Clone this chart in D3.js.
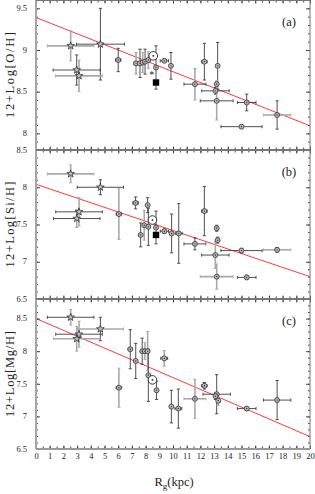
<!DOCTYPE html>
<html><head><meta charset="utf-8">
<script src="https://cdn.jsdelivr.net/npm/d3@7"></script>
<style>body{margin:0;background:#fff}svg{display:block}</style>
</head><body>
<script>
// rows: [R_g (kpc), value, dR, dValue, marker kind, x-error source, y-error source]
const oxygen = [
  [2.53, 9.05, 1.70, 0.18, "star", "A", "A"],
  [4.70, 9.07, 1.75, 0.43, "star", "B", "B"],
  [2.97, 8.76, 1.72, 0.18, "star", "B", "B"],
  [3.14, 8.69, 1.72, 0.19, "star", "A", "A"],
  [6.00, 8.88, 0.20, 0.14, "dot", "B", "B"],
  [7.30, 8.84, 0.15, 0.13, "dot", "B", "A"],
  [7.59, 8.84, 0.12, 0.17, "dot", "B", "B"],
  [7.79, 8.85, 0.12, 0.12, "dot", "B", "A"],
  [7.96, 8.86, 0.12, 0.15, "dot", "B", "B"],
  [8.20, 8.88, 0.12, 0.10, "dot", "B", "A"],
  [8.76, 8.79, 0.10, 0.26, "dot", "B", "B"],
  [9.37, 8.87, 0.30, 0.02, "dot", "B", "B"],
  [9.85, 8.81, 0.10, 0.16, "dot", "B", "B"],
  [11.60, 8.59, 0.80, 0.19, "dot", "B", "A"],
  [12.29, 8.86, 0.20, 0.22, "dot", "B", "B"],
  [13.26, 8.81, 0.10, 0.28, "dot", "B", "B"],
  [13.19, 8.59, 0.10, 0.04, "dot", "B", "A"],
  [13.10, 8.51, 1.00, 0.04, "dot", "B", "B"],
  [13.19, 8.39, 1.20, 0.23, "dot", "B", "A"],
  [15.38, 8.37, 0.68, 0.10, "dot", "B", "B"],
  [15.00, 8.08, 1.50, 0.02, "dot", "B", "B"],
  [17.60, 8.22, 1.00, 0.17, "dot", "A", "B"],
  [8.56, 8.93, 0, 0, "sun", "B", "B"],
  [8.45, 8.71, 0, 0, "ast", "B", "B"],
  [8.76, 8.61, 0, 0, "square", "B", "B"]
];
const silicon = [
  [2.53, 8.18, 1.70, 0.12, "star", "A", "A"],
  [4.70, 8.00, 1.69, 0.10, "star", "B", "B"],
  [2.97, 7.58, 1.70, 0.12, "star", "B", "A"],
  [3.14, 7.67, 1.70, 0.19, "star", "B", "A"],
  [6.05, 7.64, 0.20, 0.34, "dot", "B", "A"],
  [7.27, 7.79, 0.20, 0.08, "dot", "B", "B"],
  [7.64, 7.36, 0.10, 0.16, "dot", "B", "B"],
  [7.90, 7.49, 0.10, 0.20, "dot", "B", "A"],
  [8.15, 7.76, 0.10, 0.10, "dot", "B", "B"],
  [8.20, 7.47, 0.10, 0.25, "dot", "B", "B"],
  [8.76, 7.46, 0.10, 0.22, "dot", "B", "B"],
  [9.37, 7.41, 0.30, 0.03, "dot", "B", "B"],
  [9.90, 7.38, 0.10, 0.26, "dot", "B", "B"],
  [10.42, 7.38, 0.25, 0.40, "dot", "B", "B"],
  [11.60, 7.24, 0.80, 0.08, "dot", "B", "B"],
  [12.29, 7.68, 0.20, 0.33, "dot", "B", "B"],
  [13.19, 7.45, 0.10, 0.04, "dot", "B", "B"],
  [13.26, 7.29, 0.10, 0.04, "dot", "B", "B"],
  [13.09, 7.09, 1.00, 0.18, "dot", "B", "A"],
  [13.19, 6.80, 1.20, 0.17, "dot", "A", "A"],
  [15.38, 6.79, 0.68, 0.03, "dot", "B", "B"],
  [15.00, 7.15, 1.50, 0.03, "dot", "B", "B"],
  [17.60, 7.16, 1.00, 0.03, "dot", "A", "B"],
  [8.50, 7.56, 0, 0, "sun", "B", "B"],
  [8.76, 7.36, 0, 0, "square", "B", "B"]
];
const magnesium = [
  [2.53, 8.52, 1.70, 0.12, "star", "B", "A"],
  [4.70, 8.34, 1.69, 0.18, "star", "A", "B"],
  [2.97, 8.19, 1.70, 0.19, "star", "A", "A"],
  [3.14, 8.26, 1.70, 0.20, "star", "B", "A"],
  [6.05, 7.44, 0.20, 0.30, "dot", "B", "A"],
  [6.88, 8.03, 0.15, 0.30, "dot", "B", "B"],
  [7.28, 7.85, 0.10, 0.27, "dot", "B", "B"],
  [7.75, 8.00, 0.10, 0.20, "dot", "B", "B"],
  [7.95, 8.00, 0.10, 0.13, "dot", "B", "A"],
  [8.15, 8.00, 0.10, 0.30, "dot", "B", "A"],
  [8.20, 7.63, 0.10, 0.40, "dot", "B", "B"],
  [8.80, 7.40, 0.10, 0.14, "dot", "B", "B"],
  [9.36, 7.89, 0.25, 0.12, "dot", "B", "A"],
  [9.88, 7.15, 0.10, 0.25, "dot", "B", "B"],
  [10.39, 7.12, 0.25, 0.30, "dot", "B", "B"],
  [11.60, 7.27, 0.80, 0.30, "dot", "A", "A"],
  [12.29, 7.47, 0.20, 0.05, "dot", "B", "B"],
  [13.19, 7.34, 1.00, 0.30, "dot", "B", "B"],
  [13.10, 7.31, 0.10, 0.05, "dot", "B", "B"],
  [13.30, 7.24, 0.10, 0.07, "dot", "B", "A"],
  [15.38, 7.12, 0.68, 0.03, "dot", "B", "B"],
  [17.60, 7.25, 1.00, 0.30, "dot", "B", "B"],
  [8.50, 7.56, 0, 0, "sun", "B", "B"]
];
const panelTags = ["(a)", "(b)", "(c)"];
const yTitles = ["12+Log[O/H]", "12+Log[Si/H]", "12+Log[Mg/H]"];
const yDomains = [[7.8, 9.6], [6.5, 8.5], [6.5, 8.8]];
const yTickLabels = [["8", "8.5", "9", "9.5"], ["6.5", "7", "7.5", "8", "8.5"], ["6.5", "7", "7.5", "8", "8.5"]];
const fitIntercept = [9.39, 8.04, 8.50];
const fitSlope = [-0.065, -0.062, -0.0905];
const xTickLabels = [0,1,2,3,4,5,6,7,8,9,10,11,12,13,14,15,16,17,18,19,20];
const xDomain = [0, 20];

const W = 315, H = 494;
const left = 36, right = 310;
const panelTops = [0, 150, 299];
const panelBottoms = [150, 299, 449];
const datasets = [oxygen, silicon, magnesium];
const FONT = "'Liberation Serif', 'DejaVu Serif', serif";
const srcStyle = {A: {c: "#a9a9a9", w: 1.6}, B: {c: "#3c3c3c", w: 0.9}};

const svg = d3.select("body").append("svg").attr("width", W).attr("height", H);
const x = d3.scaleLinear().domain(xDomain).range([left, right]);
const xMinor = d3.range(0, 41).map(v => v / 2);
const labelLayer = [];

datasets.forEach((data, i) => {
  const y = d3.scaleLinear().domain(yDomains[i]).range([panelBottoms[i], panelTops[i]]);
  const g = svg.append("g");
  const [lo, hi] = yDomains[i];
  const yMinor = d3.range(Math.ceil(lo * 10 - 1e-6), Math.floor(hi * 10 + 1e-6) + 1).map(v => v / 10);
  const yMajor = yMinor.filter(v => Math.abs(v * 2 - Math.round(v * 2)) < 1e-6);

  const clipId = "clip" + i;
  svg.append("clipPath").attr("id", clipId).append("rect")
    .attr("x", left).attr("y", panelTops[i]).attr("width", right - left).attr("height", panelBottoms[i] - panelTops[i]);

  // fit line
  g.append("line").attr("clip-path", `url(#${clipId})`)
    .attr("x1", x(xDomain[0])).attr("y1", y(fitIntercept[i] + fitSlope[i] * xDomain[0]))
    .attr("x2", x(xDomain[1])).attr("y2", y(fitIntercept[i] + fitSlope[i] * xDomain[1]))
    .attr("stroke", "#ff3b3b").attr("stroke-width", 1);

  // error bars
  const eb = g.append("g");
  data.forEach(d => {
    const [r, v, dr, dv, kind, sx, sy] = d;
    const cx = x(r), cy = y(v);
    if (dr > 0) {
      const s = srcStyle[sx];
      eb.append("line").attr("x1", x(r - dr)).attr("x2", x(r + dr)).attr("y1", cy).attr("y2", cy)
        .attr("stroke", s.c).attr("stroke-width", s.w);
      [r - dr, r + dr].forEach(e => eb.append("line").attr("x1", x(e)).attr("x2", x(e))
        .attr("y1", cy - 1.6).attr("y2", cy + 1.6).attr("stroke", s.c).attr("stroke-width", 0.9));
    }
    if (dv > 0) {
      const s = srcStyle[sy];
      eb.append("line").attr("x1", cx).attr("x2", cx).attr("y1", y(v - dv)).attr("y2", y(v + dv))
        .attr("stroke", s.c).attr("stroke-width", s.w);
      [v - dv, v + dv].forEach(e => eb.append("line").attr("y1", y(e)).attr("y2", y(e))
        .attr("x1", cx - 1.6).attr("x2", cx + 1.6).attr("stroke", s.c).attr("stroke-width", 0.9));
    }
  });

  // markers
  const mk = g.append("g");
  const star = d3.symbol(d3.symbolStar).size(18)();
  data.forEach(d => {
    const [r, v, , , kind] = d;
    const cx = x(r), cy = y(v);
    if (kind === "star") {
      mk.append("path").attr("d", star).attr("transform", `translate(${cx},${cy})`)
        .attr("fill", "#c4c4c4").attr("stroke", "#333").attr("stroke-width", 0.8);
    } else if (kind === "dot") {
      mk.append("circle").attr("cx", cx).attr("cy", cy).attr("r", 2.5)
        .attr("fill", "#b8b8b8").attr("stroke", "#333").attr("stroke-width", 0.8);
      mk.append("circle").attr("cx", cx).attr("cy", cy).attr("r", 0.7).attr("fill", "#333");
    } else if (kind === "sun") {
      mk.append("circle").attr("cx", cx).attr("cy", cy).attr("r", 4.3)
        .attr("fill", "#fff").attr("stroke", "#222").attr("stroke-width", 0.9);
      mk.append("circle").attr("cx", cx).attr("cy", cy).attr("r", 0.9).attr("fill", "#222");
    } else if (kind === "square") {
      mk.append("rect").attr("x", cx - 3.2).attr("y", cy - 3.2).attr("width", 6.4).attr("height", 6.4)
        .attr("fill", "#000");
    } else if (kind === "ast") {
      mk.append("text").attr("x", cx).attr("y", cy + 4).attr("text-anchor", "middle")
        .attr("font-family", FONT).attr("font-size", 10).attr("fill", "#222").text("*");
    }
  });

  // axes (ticks pointing inward)
  const axStyle = sel => {
    sel.select(".domain").remove();
    sel.selectAll(".tick line").attr("stroke", "#333").attr("stroke-width", 0.9);
  };
  svg.append("g").attr("transform", `translate(${left},0)`)
    .call(d3.axisLeft(y).tickValues(yMinor).tickSize(-2).tickFormat("")).call(axStyle);
  svg.append("g").attr("transform", `translate(${left},0)`)
    .call(d3.axisLeft(y).tickValues(yMajor).tickSize(-4).tickFormat("")).call(axStyle);
  svg.append("g").attr("transform", `translate(${right},0)`)
    .call(d3.axisRight(y).tickValues(yMinor).tickSize(-2).tickFormat("")).call(axStyle);
  svg.append("g").attr("transform", `translate(${right},0)`)
    .call(d3.axisRight(y).tickValues(yMajor).tickSize(-4).tickFormat("")).call(axStyle);
  svg.append("g").attr("transform", `translate(0,${panelTops[i]})`)
    .call(d3.axisTop(x).tickValues(xMinor).tickSize(-2.5).tickFormat("")).call(axStyle);
  svg.append("g").attr("transform", `translate(0,${panelTops[i]})`)
    .call(d3.axisTop(x).tickValues(xTickLabels).tickSize(-3.5).tickFormat("")).call(axStyle);
  svg.append("g").attr("transform", `translate(0,${panelBottoms[i]})`)
    .call(d3.axisBottom(x).tickValues(xMinor).tickSize(-2.5).tickFormat("")).call(axStyle);
  svg.append("g").attr("transform", `translate(0,${panelBottoms[i]})`)
    .call(d3.axisBottom(x).tickValues(xTickLabels).tickSize(-3.5).tickFormat("")).call(axStyle);

  // frame
  svg.append("line").attr("x1", left).attr("x2", left).attr("y1", panelTops[i]).attr("y2", panelBottoms[i])
    .attr("stroke", "#a5a5a5").attr("stroke-width", 2);
  svg.append("line").attr("x1", right).attr("x2", right).attr("y1", panelTops[i]).attr("y2", panelBottoms[i])
    .attr("stroke", "#8a8a8a").attr("stroke-width", 1.2);
  svg.append("line").attr("x1", left).attr("x2", right).attr("y1", panelTops[i] + (i === 0 ? 0.5 : 0)).attr("y2", panelTops[i] + (i === 0 ? 0.5 : 0))
    .attr("stroke", "#777").attr("stroke-width", i === 0 ? 1 : 1.8);
  svg.append("line").attr("x1", left).attr("x2", right).attr("y1", panelBottoms[i]).attr("y2", panelBottoms[i])
    .attr("stroke", i === 2 ? "#999" : "#666").attr("stroke-width", 1.8);

  // y tick labels (collected, drawn last so nothing covers them)
  yTickLabels[i].forEach(t => labelLayer.push({t, py: y(+t)}));

  // panel tag
  svg.append("text").attr("x", 289).attr("y", panelTops[i] + 26).attr("text-anchor", "middle")
    .attr("font-family", FONT).attr("font-size", 12.5).attr("fill", "#222").text(panelTags[i]);

  // y title
  const mid = (panelTops[i] + panelBottoms[i]) / 2;
  svg.append("text").attr("transform", `translate(14,${mid}) rotate(-90)`).attr("text-anchor", "middle")
    .attr("font-family", FONT).attr("font-size", 12.5).attr("fill", "#222")
    .attr("textLength", 86).attr("lengthAdjust", "spacing").text(yTitles[i]);
});

svg.append("g").selectAll("text").data(labelLayer).join("text")
  .attr("x", 27).attr("y", d => d.py).attr("dy", "0.32em").attr("text-anchor", "end")
  .attr("font-family", FONT).attr("font-size", 8.5).attr("fill", "#222").text(d => d.t);

// x tick labels
svg.append("g").attr("transform", `translate(0,${panelBottoms[2]})`)
  .call(d3.axisBottom(x).tickValues(xTickLabels).tickSize(0).tickPadding(4))
  .call(sel => { sel.select(".domain").remove();
    sel.selectAll("text").attr("font-family", FONT).attr("font-size", 8.5).attr("fill", "#222"); });

// x title
const xt = svg.append("text").attr("x", 174).attr("y", 486).attr("text-anchor", "middle")
  .attr("font-family", FONT).attr("font-size", 12.5).attr("fill", "#222");
xt.append("tspan").text("R");
xt.append("tspan").attr("font-size", 9).attr("dy", 3).text("g");
xt.append("tspan").attr("dy", -3).text("(kpc)");
</script>
</body></html>
